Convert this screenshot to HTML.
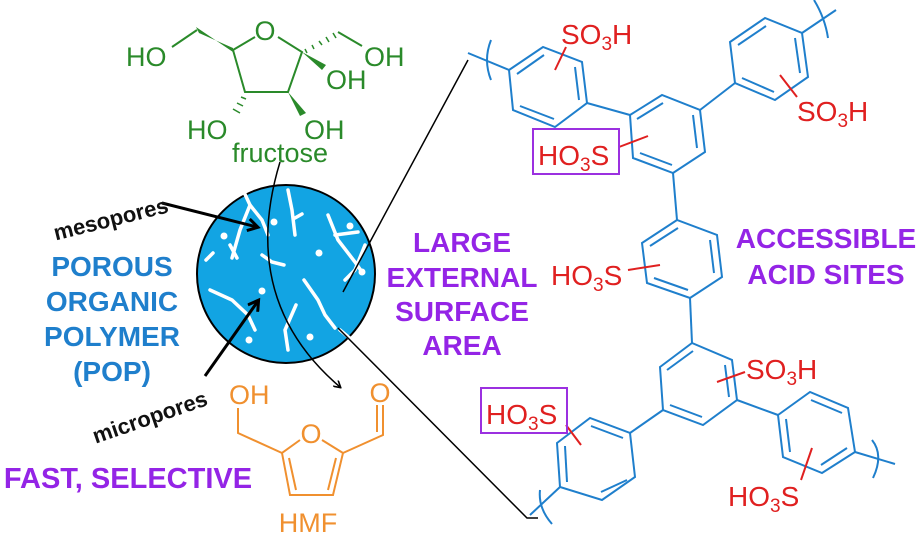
<!DOCTYPE html>
<html><head><meta charset="utf-8"><style>
html,body{margin:0;padding:0;background:#fff}
svg{display:block}
text{font-family:"Liberation Sans",sans-serif}
.b{font-weight:bold}
</style></head><body>
<svg width="920" height="534" viewBox="0 0 920 534" xmlns="http://www.w3.org/2000/svg">
<defs>
<marker id="ah" markerWidth="8" markerHeight="8" refX="6" refY="4" orient="auto" markerUnits="userSpaceOnUse">
<path d="M0,0 L7,4 L0,8" fill="none" stroke="#000" stroke-width="1.6"/></marker>
<marker id="ahb" markerWidth="14" markerHeight="14" refX="10" refY="7" orient="auto" markerUnits="userSpaceOnUse">
<path d="M1,1 L11,7 L1,13" fill="none" stroke="#000" stroke-width="3"/></marker>
</defs>

<!-- fructose -->
<g stroke="#2a8a2a" stroke-width="2" fill="none">
<polyline points="255,37 233,50 245,92 288,92 302,52 278,37"/>
<line x1="197" y1="30" x2="172" y2="47"/>
<line x1="338" y1="32" x2="362" y2="46"/>
<g stroke-width="1.5">
<line x1="305" y1="49" x2="307" y2="53"/><line x1="312" y1="45" x2="314" y2="49"/><line x1="319" y1="41" x2="322" y2="45"/><line x1="326" y1="37" x2="329" y2="42"/><line x1="333" y1="33" x2="336" y2="38"/>
<line x1="241" y1="97" x2="246" y2="99"/><line x1="237" y1="103" x2="243" y2="106"/><line x1="233" y1="109" x2="240" y2="113"/>
</g>
</g>
<g fill="#2a8a2a">
<polygon points="233,52 196,27 199,33 233,48"/>
<polygon points="302,52 322,70 326,65"/>
<polygon points="288,92 300,116 306,113"/>
<text x="265" y="40" font-size="27" text-anchor="middle">O</text>
<text x="126" y="66" font-size="27">HO</text>
<text x="364" y="66" font-size="27">OH</text>
<text x="326" y="89" font-size="27">OH</text>
<text x="187" y="139" font-size="27">HO</text>
<text x="304" y="139" font-size="27">OH</text>
<text x="280" y="162" font-size="27" text-anchor="middle">fructose</text>
</g>

<!-- circle -->
<circle cx="286" cy="274" r="89" fill="#12a4e3" stroke="#000" stroke-width="2"/>
<g stroke="#fff" stroke-width="3.5" fill="none" stroke-linecap="round">
<path d="M243,190 L250,205 L240,230 L232,258"/>
<path d="M250,205 L262,220 L268,235"/>
<path d="M288,190 L292,210 L295,235"/>
<path d="M295,218 L302,214"/>
<path d="M328,215 L338,240 L355,262 L362,272"/>
<path d="M335,235 L358,232"/>
<path d="M365,245 L355,270 L345,280"/>
<path d="M304,280 L318,300 L325,315 L335,328"/>
<path d="M296,305 L285,330 L288,350"/>
<path d="M210,290 L232,300 L248,315 L255,330"/>
<path d="M262,255 L272,262 L284,265"/>
<path d="M230,245 L237,258"/>
<path d="M340,330 L352,340"/>
<path d="M213,253 L206,260"/>
</g>
<g fill="#fff">
<circle cx="224" cy="236" r="3.5"/><circle cx="274" cy="222" r="3.5"/><circle cx="319" cy="253" r="3.5"/>
<circle cx="350" cy="226" r="3.5"/><circle cx="362" cy="272" r="3.5"/><circle cx="262" cy="291" r="3.5"/>
<circle cx="249" cy="340" r="3.5"/><circle cx="310" cy="337" r="3.5"/>
</g>

<!-- connectors -->
<g stroke="#000" fill="none">
<path d="M280,162 Q238,300 340,387" stroke-width="1.5" marker-end="url(#ah)"/>
<line x1="343" y1="292" x2="468" y2="60" stroke-width="1.5"/>
<polyline points="338,328 527,518 538,518" stroke-width="1.5"/>
<line x1="162" y1="203" x2="257" y2="227" stroke-width="3" marker-end="url(#ahb)"/>
<line x1="205" y1="376" x2="258" y2="301" stroke-width="3" marker-end="url(#ahb)"/>
</g>
<text x="50" y="226" font-size="22" class="b" transform="rotate(-14 112 210)" fill="#111">mesopores</text>
<text x="86" y="424" font-size="22" class="b" transform="rotate(-19 150 405)" fill="#111">micropores</text>

<!-- labels -->
<g fill="#1f7fcc" font-size="28" text-anchor="middle">
<text x="112" y="276" class="b">POROUS</text>
<text x="112" y="311" class="b">ORGANIC</text>
<text x="112" y="346" class="b">POLYMER</text>
<text x="112" y="381" class="b">(POP)</text>
</g>
<g fill="#9424e6" font-size="28" text-anchor="middle">
<text x="462" y="252" class="b">LARGE</text>
<text x="462" y="287" class="b">EXTERNAL</text>
<text x="462" y="321" class="b">SURFACE</text>
<text x="462" y="355" class="b">AREA</text>
<text x="826" y="248" class="b">ACCESSIBLE</text>
<text x="826" y="284" class="b">ACID SITES</text>
<text x="128" y="488" font-size="29" class="b">FAST, SELECTIVE</text>
</g>

<!-- HMF -->
<g stroke="#f0902f" stroke-width="2" fill="none">
<polyline points="238,408 238,433 282,453"/>
<polyline points="300,440 282,453 290,495 333,495 343,453 322,440"/>
<line x1="289" y1="458" x2="296" y2="490"/>
<line x1="336" y1="458" x2="328" y2="490"/>
<polyline points="343,453 383,435 383,405"/>
<line x1="377" y1="432" x2="377" y2="405"/>
</g>
<g fill="#f0902f" font-size="27">
<text x="229" y="404">OH</text>
<text x="311" y="443" text-anchor="middle">O</text>
<text x="380" y="402" text-anchor="middle">O</text>
<text x="308" y="532" text-anchor="middle">HMF</text>
</g>

<!-- polymer -->
<g stroke="#1f7fcc" stroke-width="2" fill="none">
<polygon points="509,70 543,47 582,62 587,103 555,127 513,110"/>
<line x1="517" y1="74" x2="544" y2="55"/><line x1="575" y1="67" x2="579" y2="100"/><line x1="554" y1="119" x2="520" y2="106"/>
<polygon points="630,115 662,95 700,110 705,152 673,173 633,158"/>
<line x1="637" y1="119" x2="663" y2="103"/><line x1="693" y1="115" x2="697" y2="148"/><line x1="672" y1="165" x2="640" y2="153"/>
<polygon points="730,42 765,18 802,33 808,77 775,100 735,83"/>
<line x1="738" y1="45" x2="766" y2="26"/><line x1="795" y1="38" x2="800" y2="73"/><line x1="774" y1="92" x2="742" y2="78"/>
<polygon points="642,243 677,220 717,235 722,277 690,298 647,283"/>
<line x1="650" y1="246" x2="678" y2="228"/><line x1="710" y1="240" x2="714" y2="273"/><line x1="688" y1="290" x2="654" y2="278"/>
<polygon points="660,367 692,343 732,360 737,400 703,425 663,410"/>
<line x1="667" y1="370" x2="693" y2="351"/><line x1="725" y1="365" x2="729" y2="397"/><line x1="702" y1="417" x2="670" y2="405"/>
<polygon points="557,443 590,418 630,433 635,477 602,500 560,487"/>
<line x1="591" y1="426" x2="623" y2="438"/><line x1="627" y1="480" x2="601" y2="492"/><line x1="567" y1="482" x2="565" y2="446"/>
<polygon points="778,415 810,392 848,408 855,452 822,473 783,457"/>
<line x1="811" y1="400" x2="842" y2="413"/><line x1="847" y1="448" x2="821" y2="465"/><line x1="790" y1="452" x2="786" y2="419"/>
<line x1="587" y1="103" x2="630" y2="115"/>
<line x1="700" y1="110" x2="735" y2="83"/>
<line x1="673" y1="173" x2="677" y2="220"/>
<line x1="690" y1="298" x2="692" y2="343"/>
<line x1="663" y1="410" x2="630" y2="433"/>
<line x1="737" y1="400" x2="778" y2="415"/>
<line x1="509" y1="70" x2="468" y2="53"/>
<line x1="802" y1="33" x2="836" y2="10"/>
<line x1="560" y1="487" x2="530" y2="515"/>
<line x1="855" y1="452" x2="895" y2="464"/>
<path d="M491,40 Q483,60 491,80"/>
<path d="M814,0 Q825,18 828,38"/>
<path d="M540,490 Q538,508 552,524"/>
<path d="M872,440 Q884,455 873,478"/>
</g>
<g stroke="#e02020" stroke-width="2">
<line x1="555" y1="70" x2="566" y2="47"/>
<line x1="780" y1="75" x2="797" y2="97"/>
<line x1="619" y1="147" x2="648" y2="136"/>
<line x1="628" y1="270" x2="660" y2="265"/>
<line x1="717" y1="382" x2="745" y2="372"/>
<line x1="566" y1="425" x2="581" y2="445"/>
<line x1="812" y1="448" x2="801" y2="480"/>
</g>
<g stroke="#9b30e0" stroke-width="2" fill="none">
<rect x="533" y="129" width="86" height="45"/>
<rect x="481" y="388" width="86" height="45"/>
</g>
<g fill="#e02020" font-size="28">
<text x="561" y="44">SO<tspan font-size="19" dy="6">3</tspan><tspan dy="-6">H</tspan></text>
<text x="797" y="121">SO<tspan font-size="19" dy="6">3</tspan><tspan dy="-6">H</tspan></text>
<text x="538" y="165">HO<tspan font-size="19" dy="6">3</tspan><tspan dy="-6">S</tspan></text>
<text x="551" y="285">HO<tspan font-size="19" dy="6">3</tspan><tspan dy="-6">S</tspan></text>
<text x="746" y="379">SO<tspan font-size="19" dy="6">3</tspan><tspan dy="-6">H</tspan></text>
<text x="486" y="424">HO<tspan font-size="19" dy="6">3</tspan><tspan dy="-6">S</tspan></text>
<text x="728" y="506">HO<tspan font-size="19" dy="6">3</tspan><tspan dy="-6">S</tspan></text>
</g>
</svg>
</body></html>
